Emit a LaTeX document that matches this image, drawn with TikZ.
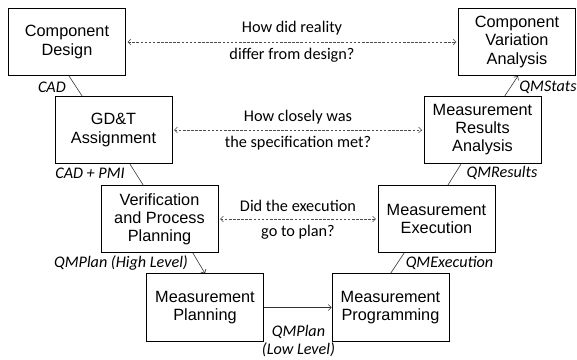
\documentclass[tikz,border=0pt]{standalone}
\usepackage{fontspec}
\setmainfont{Liberation Sans}
\newfontfamily\lblfont{Carlito}
\usetikzlibrary{arrows.meta}

\begin{document}
\begin{tikzpicture}[x=0.03cm, y=-0.03cm, >={Straight Barb[length=2.5pt,width=5pt]},
  box/.style={draw, line width=0.6pt, minimum width=3.51cm, minimum height=2.02cm, align=center, inner sep=1pt, font=\fontsize{13.9}{15.4}\selectfont},
  flow/.style={draw=black!80, line width=0.5pt},
  query/.style={draw=black!70, line width=0.45pt, dash pattern=on 2.2pt off 1.3pt, <->, shorten <=1.5pt, shorten >=1.5pt},
  tag/.style={font=\lblfont\itshape\fontsize{13.8}{15.4}\selectfont, inner sep=0pt, align=center},
  ask/.style={font=\lblfont\fontsize{13.9}{15.4}\selectfont, inner sep=0pt}]
\useasboundingbox (0,0) rectangle (577,360);
% process steps
\node[box] (design) at (67,42) {Component\\Design};
\node[box] (gdt) at (113.5,130) {GD\&T\\Assignment};
\node[box] (verify) at (159.5,219) {Verification\\and Process\\Planning};
\node[box] (mplan) at (205,307.5) {Measurement\\Planning};
\node[box] (mprog) at (390.5,307.5) {Measurement\\Programming};
\node[box] (mexec) at (436.5,219) {Measurement\\Execution};
\node[box] (results) at (482.5,130) {Measurement\\Results\\Analysis};
\node[box] (variation) at (517,42) {Component\\Variation\\Analysis};
% data passed along
\draw[flow] ([xshift=1.7pt]design.south) -- ([xshift=-26.8pt]gdt.north);
\draw[flow] ([xshift=14pt]gdt.south) -- ([xshift=-14pt]verify.north);
\draw[flow, ->] ([xshift=28.5pt]verify.south) -- (mplan.north);
\draw[flow, ->] (mplan.east) -- (mprog.west);
\draw[flow] (mprog.north) -- ([xshift=-27.6pt]mexec.south);
\draw[flow] ([xshift=9.8pt]mexec.north) -- ([xshift=-18.3pt]results.south);
\draw[flow, ->] ([xshift=19pt]results.north) -- ([xshift=0.8pt]variation.south);
\node[tag, anchor=east] (cadtag) at (66,87) {CAD};
\node[tag] (pmitag) at (90,173) {CAD + PMI};
\node[tag] (hightag) at (121,263) {QMPlan (High Level)};
\node[tag] (lowtag) at (298.5,341) {QMPlan\\(Low Level)};
\node[tag] (exectag) at (449.5,263) {QMExecution};
\node[tag] (restag) at (502,173) {QMResults};
\node[tag] (statstag) at (548,87) {QMStats};
% feedback questions
\draw[query] (design) -- (variation)
  node[ask, midway, yshift=11.5pt] (q1top) {How did reality}
  node[ask, midway, yshift=-11.5pt] (q1bot) {differ from design?};
\draw[query] (gdt) -- (results)
  node[ask, midway, yshift=11pt] (q2top) {How closely was}
  node[ask, midway, yshift=-11pt] (q2bot) {the specification met?};
\draw[query] (verify) -- (mexec)
  node[ask, midway, yshift=11pt] (q3top) {Did the execution}
  node[ask, midway, yshift=-11pt] (q3bot) {go to plan?};
\end{tikzpicture}
\end{document}
